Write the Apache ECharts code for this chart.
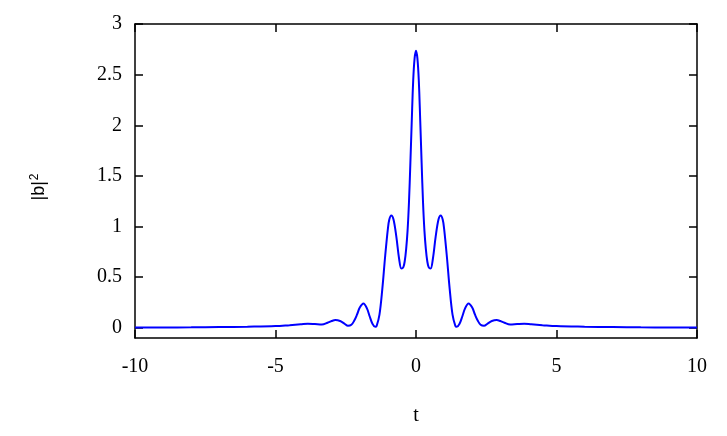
<!DOCTYPE html>
<html>
<head>
<meta charset="utf-8">
<script src="https://cdn.jsdelivr.net/npm/echarts@6/dist/echarts.min.js"></script>
<style>
  html, body { margin: 0; padding: 0; background: #fff; }
  #main { width: 727px; height: 436px; }
</style>
</head>
<body>
<div id="main"></div>
<script>
// values (t, |b|^2)
var tValues = [
    -10, -9, -8, -7, -6, -5, -4.5, -4.1, -3.85, -3.6, -3.35, -3.15, -3.0, -2.87, -2.7, -2.55, -2.42,
    -2.3, -2.2, -2.1, -2.0, -1.87, -1.75, -1.65, -1.55, -1.45, -1.4, -1.3, -1.2, -1.1, -1.0,
    -0.95, -0.88, -0.8, -0.7, -0.6, -0.52, -0.45, -0.4, -0.35, -0.3, -0.25, -0.2, -0.15, -0.1, -0.05,
    0,
    0.05, 0.1, 0.15, 0.2, 0.25, 0.3, 0.35, 0.4, 0.45, 0.52, 0.6, 0.7, 0.8, 0.88, 0.95,
    1.0, 1.1, 1.2, 1.3, 1.4, 1.45, 1.55, 1.65, 1.75, 1.87, 2.0, 2.1, 2.2, 2.3,
    2.42, 2.55, 2.7, 2.87, 3.0, 3.15, 3.35, 3.6, 3.85, 4.1, 4.5, 5, 6, 7, 8, 9, 10
];
var bValues = [
    0.003, 0.004, 0.005, 0.008, 0.012, 0.018, 0.027, 0.035, 0.040, 0.037, 0.033, 0.050, 0.068, 0.078, 0.068, 0.042, 0.020,
    0.030, 0.070, 0.130, 0.200, 0.240, 0.195, 0.115, 0.040, 0.010, 0.020, 0.130, 0.380, 0.700, 0.980,
    1.070, 1.110, 1.070, 0.900, 0.680, 0.585, 0.600, 0.660, 0.780, 0.960, 1.240, 1.630, 2.050, 2.440, 2.660,
    2.735,
    2.660, 2.440, 2.050, 1.630, 1.240, 0.960, 0.780, 0.660, 0.600, 0.585, 0.680, 0.900, 1.070, 1.110, 1.070,
    0.980, 0.700, 0.380, 0.130, 0.020, 0.010, 0.040, 0.115, 0.195, 0.240, 0.200, 0.130, 0.070, 0.030,
    0.020, 0.042, 0.068, 0.078, 0.068, 0.050, 0.033, 0.037, 0.040, 0.035, 0.027, 0.018, 0.012, 0.008, 0.005, 0.004, 0.003
];
var xTicks = [-10, -5, 0, 5, 10];
var yTicks = [0, 0.5, 1, 1.5, 2, 2.5, 3];

var curve = tValues.map(function (t, i) { return [t, bValues[i]]; });

var font = 'Liberation Serif';
var lineCol = '#000';

var myChart = echarts.init(document.getElementById('main'));
var option = {
    animation: false,
    backgroundColor: '#fff',
    grid: { left: 135, right: 30, top: 24, bottom: 98 },
    xAxis: [{
        type: 'value', min: -10, max: 10,
        name: 't', nameLocation: 'middle', nameGap: 68,
        nameTextStyle: { fontFamily: font, fontSize: 20, color: '#000' },
        axisLine: { onZero: false, lineStyle: { color: lineCol, width: 1.5 } },
        axisTick: { inside: true, length: 8, lineStyle: { color: lineCol, width: 1.5 }, customValues: xTicks },
        axisLabel: { fontFamily: font, fontSize: 20, color: '#000', margin: 19, customValues: xTicks },
        splitLine: { show: false }
    }, {
        type: 'value', min: -10, max: 10, position: 'top',
        axisLine: { onZero: false, lineStyle: { color: lineCol, width: 1.5 } },
        axisTick: { inside: true, length: 8, lineStyle: { color: lineCol, width: 1.5 }, customValues: xTicks },
        axisLabel: { show: false },
        splitLine: { show: false }
    }],
    yAxis: [{
        type: 'value', min: -0.1, max: 3,
        name: '|b|{sup|2}', nameLocation: 'middle', nameGap: 86, nameRotate: 90,
        nameTextStyle: { fontFamily: 'Liberation Sans', fontSize: 18, color: '#000', padding: [0, 12, 0, 0],
            rich: { sup: { fontFamily: 'Liberation Sans', fontSize: 12, color: '#000', verticalAlign: 'top', padding: [0, 0, 8, 1] } } },
        axisLine: { onZero: false, lineStyle: { color: lineCol, width: 1.5 } },
        axisTick: { inside: true, length: 8, lineStyle: { color: lineCol, width: 1.5 }, customValues: yTicks },
        axisLabel: { fontFamily: font, fontSize: 20, color: '#000', margin: 13, customValues: yTicks },
        splitLine: { show: false }
    }, {
        type: 'value', min: -0.1, max: 3, position: 'right',
        axisLine: { onZero: false, lineStyle: { color: lineCol, width: 1.5 } },
        axisTick: { inside: true, length: 8, lineStyle: { color: lineCol, width: 1.5 }, customValues: yTicks },
        axisLabel: { show: false },
        splitLine: { show: false }
    }],
    series: [{
        type: 'line',
        data: curve,
        smooth: 0.35,
        showSymbol: false,
        lineStyle: { color: '#0000ff', width: 2 }
    }]
};
myChart.setOption(option);
</script>
</body>
</html>
